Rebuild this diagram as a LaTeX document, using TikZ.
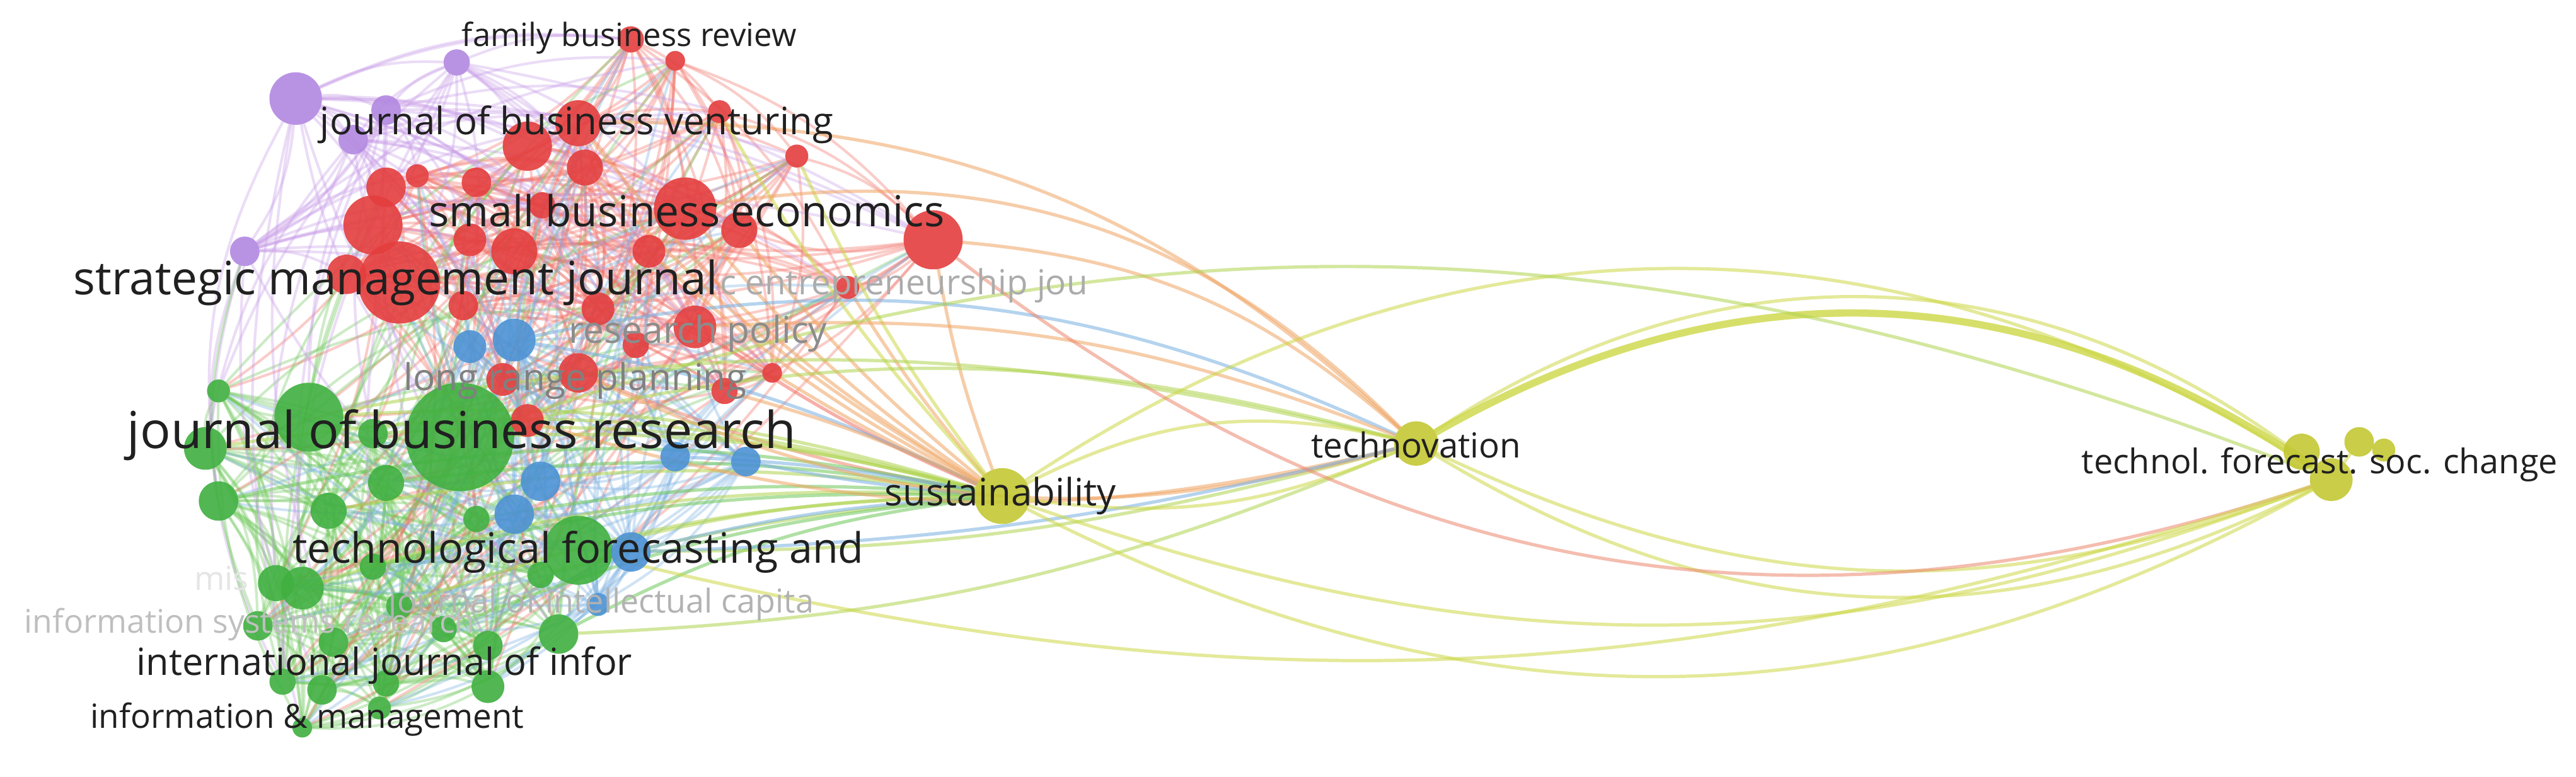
\documentclass[tikz,border=0pt]{standalone}
\usepackage{fontspec}
\setmainfont{Open Sans}
\pgfdeclarelayer{bg}
\pgfsetlayers{bg,main}
\definecolor{cR}{RGB}{228,62,62}
\definecolor{cG}{RGB}{64,176,64}
\definecolor{cB}{RGB}{76,146,212}
\definecolor{cP}{RGB}{178,136,224}
\definecolor{cY}{RGB}{196,200,52}
\definecolor{eR}{RGB}{242,110,100}
\definecolor{eG}{RGB}{110,200,90}
\definecolor{eB}{RGB}{120,175,225}
\definecolor{eP}{RGB}{200,155,232}
\definecolor{eY}{RGB}{205,215,70}
\definecolor{eO}{RGB}{240,165,100}
\definecolor{eYG}{RGB}{175,212,80}
\definecolor{eRO}{RGB}{235,135,110}
\definecolor{lab}{RGB}{32,32,32}
\tikzset{
  nd/.style={circle, inner sep=0pt, outer sep=0pt, fill opacity=0.9, draw=none},
  rn/.style={nd, fill=cR},
  gn/.style={nd, fill=cG},
  bn/.style={nd, fill=cB},
  pn/.style={nd, fill=cP},
  yn/.style={nd, fill=cY},
  ed/.style={line width=0.8pt, opacity=0.35},
  led/.style={line width=1pt, opacity=0.55},
  lbl/.style={font=\fontsize{#1}{#1}\selectfont, text=lab, inner sep=0pt},
  flbl/.style={font=\fontsize{#1}{#1}\selectfont, inner sep=0pt},
}
\begin{document}
\begin{tikzpicture}[x=1pt,y=-1pt,scale=0.5,transform shape]
\useasboundingbox (0,0) rectangle (1568,473);
% ---------- nodes ----------
\foreach \n/\x/\y/\r in {1/280/266/33,2/188/254/21,3/125/273/13,4/133/238/7,5/133/305/12,
  6/200/311/11,7/235/294/11,8/290/316/8,9/352/335/21,10/184/358/13,11/168/355/11,
  12/227/345/8,13/329/350/8,14/157/381/9,15/243/369/8,16/270/383/8,17/203/391/9,
  18/297/393/9,19/340/386/12,20/172/415/8,21/196/420/9,22/235/416/8,23/297/418/10,
  24/231/431/7,25/184/443/6,26/227/264/9}
  \node[gn, minimum size={2*\r*1pt}] (g\n) at (\x,\y) {};
\foreach \n/\x/\y/\r in {1/384/24/8,2/411/37/6,3/352/75/14,4/321/89/15,5/438/68/7,
  6/485/95/7,7/417/127/19,8/568/146/18,9/227/137/18,10/235/114/12,11/254/107/7,
  12/290/111/9,13/243/172/25,14/211/167/12,15/313/153/14,16/356/102/11,17/450/140/11,
  18/395/153/10,19/423/199/13,20/364/188/10,21/516/175/7,22/470/227/6,23/387/210/8,
  24/352/227/12,25/282/186/9,26/286/146/10,27/321/256/10,28/441/238/8,29/330/125/8,
  30/306/231/10}
  \node[rn, minimum size={2*\r*1pt}] (r\n) at (\x,\y) {};
\foreach \n/\x/\y/\r in {1/313/207/13,2/286/211/10,3/411/278/9,4/454/281/9,
  5/329/293/12,6/313/313/12,7/384/336/12,8/364/368/7}
  \node[bn, minimum size={2*\r*1pt}] (b\n) at (\x,\y) {};
\foreach \n/\x/\y/\r in {1/180/60/16,2/235/67/9,3/215/85/9,4/278/38/8,5/149/153/9}
  \node[pn, minimum size={2*\r*1pt}] (p\n) at (\x,\y) {};
\node[yn, minimum size=34pt] (ySus) at (610,302) {};
\node[yn, minimum size=27pt] (yTec) at (862,270) {};
\node[yn, minimum size=26pt] (yTF) at (1419,292) {};
\node[yn, minimum size=22pt] (yTFb) at (1401,275) {};
\node[yn, minimum size=18pt] (yTFc) at (1436,269) {};
\node[yn, minimum size=14pt] (yTFd) at (1451,274) {};
% ---------- edges ----------
\begin{pgfonlayer}{bg}
\fill[white] (0,0) rectangle (1568,473);
% red internal
\foreach \i in {1,...,29}{
  \pgfmathtruncatemacro\js{\i+1}
  \foreach \j in {\js,...,30}{
    \pgfmathtruncatemacro\sel{mod(\i*37+\j*11,7)}
    \ifnum\sel<3 \draw[ed,eR] (r\i) to[bend left=14] (r\j); \fi
  }}
% green internal
\foreach \i in {1,...,25}{
  \pgfmathtruncatemacro\js{\i+1}
  \foreach \j in {\js,...,26}{
    \pgfmathtruncatemacro\sel{mod(\i*29+\j*17,7)}
    \ifnum\sel<4 \draw[ed,eG] (g\i) to[bend left=14] (g\j); \fi
  }}
% red - green
\foreach \i in {1,...,30}{
  \foreach \j in {1,...,26}{
    \pgfmathtruncatemacro\sel{mod(\i*13+\j*7,9)}
    \pgfmathtruncatemacro\prt{mod(\i+\j,2)}
    \ifnum\sel<1
      \ifnum\prt=0 \draw[ed,eG] (g\j) to[bend left=12] (r\i);
      \else \draw[ed,eR] (r\i) to[bend left=12] (g\j); \fi
    \fi
  }}
% blue - others
\foreach \i in {1,...,7}{
  \pgfmathtruncatemacro\js{\i+1}
  \foreach \j in {\js,...,8}{\draw[ed,eB] (b\i) to[bend left=14] (b\j);}}
\foreach \i in {1,...,8}{
  \foreach \j in {1,...,26}{
    \pgfmathtruncatemacro\sel{mod(\i*5+\j*3,4)}
    \ifnum\sel<1 \draw[ed,eB] (b\i) to[bend left=12] (g\j); \fi
  }
  \foreach \j in {1,...,30}{
    \pgfmathtruncatemacro\sel{mod(\i*7+\j*3,5)}
    \ifnum\sel<1 \draw[ed,eB] (b\i) to[bend left=12] (r\j); \fi
  }}
% purple
\foreach \i in {1,...,4}{
  \pgfmathtruncatemacro\js{\i+1}
  \foreach \j in {\js,...,5}{\draw[ed,eP] (p\i) to[bend left=14] (p\j);}}
\foreach \i in {1,...,5}{
  \foreach \j in {1,...,30}{
    \pgfmathtruncatemacro\sel{mod(\i*7+\j*5,3)}
    \ifnum\sel<1 \draw[ed,eP] (p\i) to[bend left=14] (r\j); \fi
  }
  \foreach \j in {1,...,26}{
    \pgfmathtruncatemacro\sel{mod(\i*3+\j*5,8)}
    \ifnum\sel<1 \draw[ed,eP] (p\i) to[bend right=14] (g\j); \fi
  }}
\draw[ed,eP] (p1) to[bend left=15] (r1);
\draw[ed,eP] (p1) to[bend left=12] (r8);
\draw[ed,eP] (p4) to[bend left=10] (r8);
\draw[ed,eP] (p5) to[bend right=22] (g20);
\draw[ed,eP] (p1) to[bend right=18] (g5);
\draw[ed,eG] (g4) to[bend right=15] (g25);
\draw[ed,eG] (r14) to[bend right=25] (g20);
\draw[ed,eG] (p5) to[bend right=20] (g14);
% to sustainability
\foreach \a/\b/\c in {r8/5/eO,r7/8/eO,r17/6/eO,r19/5/eR,r21/4/eO,r22/3/eO,r3/10/eO,
  r6/6/eY,r16/8/eO,r5/6/eY,r18/7/eO,r24/6/eRO}
  \draw[led,\c] (\a) to[bend right=\b] (ySus);
\foreach \a/\b/\c in {g1/8/eYG,g2/10/eYG,g9/6/eYG,g19/10/eG,g7/8/eG,g26/9/eYG,g3/12/eYG,
  g13/5/eYG,g5/12/eG,b3/4/eB,b7/5/eB,b1/8/eB,r28/5/eO,g6/9/eYG,g8/7/eG,g10/10/eYG,
  g12/8/eG,g15/9/eYG,g16/8/eG}
  \draw[led,\c] (\a) to[bend left=\b] (ySus);
\draw[led,eB] (b4) to[bend right=3] (ySus);
% to technovation
\foreach \a/\b/\c in {r7/27/eO,r8/18/eO,r3/22/eO,b1/18/eB,g1/14/eYG,g2/12/eYG,r19/12/eO,
  ySus/20/eY}
  \draw[led,\c] (\a) to[bend left=\b] (yTec);
\foreach \a/\b/\c in {g9/8/eYG,r27/15/eO,r24/20/eO,g19/10/eYG,b7/6/eB,ySus/15/eY}
  \draw[led,\c] (\a) to[bend right=\b] (yTec);
% to technol. forecast. soc. change
\draw[line width=2.2pt, opacity=0.8, eY] (yTec) to[bend left=32] (yTF);
\draw[led,eY] (yTec) to[bend left=36] (yTF);
\draw[led,eY] (ySus) to[bend left=33] (yTF);
\draw[led,eYG] (g1) .. controls (702,123) and (1003,130) .. (yTF);
\draw[led,eY] (ySus) to[bend right=28] (yTF);
\draw[led,eY] (ySus) to[bend right=20] (yTF);
\draw[led,eY] (yTec) to[bend right=29] (yTF);
\draw[led,eY] (yTec) to[bend right=23] (yTF);
\draw[led,eRO] (r8) to[bend right=28] (yTF);
\draw[led,eY] (g9) .. controls (758,434) and (1022,423) .. (yTF);
\draw[led,eY] (yTFb) -- (yTF);
\draw[led,eY] (yTFc) -- (yTF);
\draw[led,eY] (yTFd) -- (yTFc);
\end{pgfonlayer}
% ---------- labels ----------
\node[lbl=19.5] (tFBR) at (383,23) {family business review};
\node[lbl=23] (tJBV) at (351,76) {journal of business venturing};
\node[lbl=26] (tSBE) at (418,128) {small business economics};
\node[flbl=21, text=black!33, anchor=west] (tSEJ) at (438,174) {c entrepreneurship jou};
\node[lbl=28] (tSMJ) at (241,172) {strategic management journal};
\node[flbl=22.5, text=black!45] (tRP) at (425,203) {research policy};
\node[flbl=22.5, text=black!50] (tLRP) at (350,232) {long range planning};
\node[lbl=31] (tJBR) at (281,265) {journal of business research};
\node[lbl=23] (tSus) at (609,302) {sustainability};
\node[lbl=21] (tTec) at (862,271) {technovation};
\node[lbl=20.7] (tTF) at (1412,283) {technol. forecast. soc. change};
\node[flbl=20, text=black!10, anchor=west] (tMIS) at (118,352) {mis};
\node[flbl=19.8, text=black!25] (tISR) at (152,380) {information systems research};
\node[flbl=20, text=black!30] (tJIC) at (366,368) {journal of intellectual capita};
\node[lbl=25.5] (tTFA) at (352,336) {technological forecasting and};
\node[lbl=22.8] (tIJI) at (234,405) {international journal of infor};
\node[lbl=20.3] (tIM) at (187,438) {information \& management};
\end{tikzpicture}
\end{document}
